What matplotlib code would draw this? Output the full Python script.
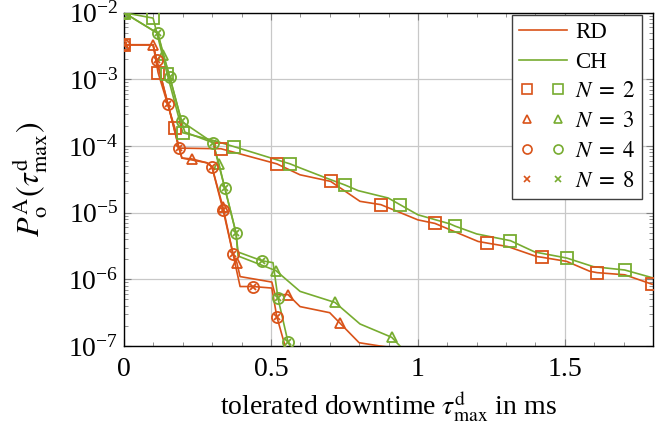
import numpy as np
import matplotlib
matplotlib.use("Agg")
import matplotlib.pyplot as plt
from matplotlib.legend_handler import HandlerTuple
from matplotlib.lines import Line2D
from matplotlib.ticker import MultipleLocator, LogLocator, NullFormatter

plt.rcParams['font.family'] = ['Liberation Serif', 'DejaVu Serif']
plt.rcParams['mathtext.fontset'] = 'stix'

red = '#D95319'
green = '#77AC30'

# RD, N=2
rd2_x = [0, 0.099, 0.116, 0.173, 0.187, 0.330, 0.520, 0.599, 0.703, 0.803, 0.874, 1.000,
         1.058, 1.205, 1.236, 1.306, 1.404, 1.423, 1.506, 1.585, 1.610, 1.704, 1.795, 1.85]
rd2_y = [3.3e-3, 3.3e-3, 1.26e-3, 1.86e-4, 9.3e-5, 9.1e-5, 5.4e-5, 3.7e-5, 2.95e-5, 1.48e-5,
         1.32e-5, 7.8e-6, 6.9e-6, 3.7e-6, 3.5e-6, 3.1e-6, 2.2e-6, 2.14e-6, 1.86e-6, 1.32e-6,
         1.26e-6, 1.17e-6, 8.5e-7, 7.8e-7]
rd2_mk = [0, 2, 3, 5, 6, 8, 10, 12, 14, 17, 20, 22]

# CH, N=2
ch2_x = [0, 0.099, 0.147, 0.200, 0.299, 0.374, 0.565, 0.599, 0.689, 0.752, 0.797, 0.899,
         0.939, 1.000, 1.109, 1.126, 1.200, 1.315, 1.398, 1.506, 1.597, 1.704, 1.80]
ch2_y = [1e-2, 8.3e-3, 1.2e-3, 1.58e-4, 1.23e-4, 9.8e-5, 5.4e-5, 4.7e-5, 3.3e-5, 2.6e-5,
         2.14e-5, 1.66e-5, 1.32e-5, 9.3e-6, 6.8e-6, 6.3e-6, 4.8e-6, 3.8e-6, 2.57e-6, 2.09e-6,
         1.55e-6, 1.38e-6, 1.05e-6]
ch2_mk = [0, 1, 2, 3, 5, 6, 9, 12, 15, 17, 19, 21]

# RD, N=3
rd3_x = [0, 0.099, 0.111, 0.150, 0.187, 0.197, 0.231, 0.282, 0.299, 0.337, 0.371, 0.384,
         0.395, 0.503, 0.514, 0.558, 0.599, 0.700, 0.735, 0.800, 0.871, 0.95]
rd3_y = [3.3e-3, 3.3e-3, 1.95e-3, 4.2e-4, 9.3e-5, 6.6e-5, 6.4e-5, 5.6e-5, 4.9e-5, 1.2e-5,
         2.4e-6, 1.78e-6, 1.1e-6, 9.1e-7, 5.9e-7, 5.9e-7, 3.9e-7, 3.16e-7, 2.2e-7, 1.12e-7,
         1.0e-7, 9.0e-8]
rd3_mk = [0, 1, 6, 9, 11, 15, 18]

# CH, N=3
ch3_x = [0, 0.115, 0.133, 0.156, 0.196, 0.303, 0.323, 0.343, 0.381, 0.388, 0.517, 0.599,
         0.718, 0.803, 0.911, 0.939, 0.96]
ch3_y = [1e-2, 4.9e-3, 2.34e-3, 1.07e-3, 2.34e-4, 1.12e-4, 5.4e-5, 2.34e-5, 5.0e-6, 2.24e-6,
         1.35e-6, 6.6e-7, 4.5e-7, 2.14e-7, 1.35e-7, 1.0e-7, 8.0e-8]
ch3_mk = [0, 2, 6, 10, 12, 14]

# RD, N=4 and N=8 (identical)
rd4_x = [0, 0.099, 0.111, 0.150, 0.187, 0.197, 0.282, 0.299, 0.337, 0.371, 0.395, 0.439,
         0.503, 0.520, 0.548, 0.56]
rd4_y = [3.3e-3, 3.3e-3, 1.95e-3, 4.2e-4, 9.3e-5, 6.6e-5, 5.6e-5, 4.9e-5, 1.1e-5, 2.4e-6,
         7.8e-7, 7.8e-7, 7.4e-7, 2.75e-7, 1.0e-7, 8.0e-8]
rd4_mk = [0, 2, 3, 4, 7, 8, 9, 11, 13]

# CH, N=4 and N=8 (identical)
ch4_x = [0, 0.115, 0.156, 0.196, 0.207, 0.303, 0.343, 0.381, 0.388, 0.469, 0.507, 0.524,
         0.558, 0.565, 0.57]
ch4_y = [1e-2, 4.9e-3, 1.07e-3, 2.34e-4, 1.62e-4, 1.12e-4, 2.34e-5, 5.0e-6, 2.57e-6, 1.9e-6,
         1.78e-6, 5.2e-7, 1.15e-7, 1.0e-7, 8.0e-8]
ch4_mk = [0, 1, 2, 3, 5, 6, 7, 9, 11, 12]

fig = plt.figure(figsize=(6.67, 4.25), dpi=100)
ax = fig.add_axes([124 / 667, 1 - 346 / 425, 529 / 667, 333.3 / 425])

lw = 1.2
mew = 1.3
curves = [
    (rd2_x, rd2_y, rd2_mk, red, [('s', 8)]),
    (ch2_x, ch2_y, ch2_mk, green, [('s', 8)]),
    (rd3_x, rd3_y, rd3_mk, red, [('^', 7)]),
    (ch3_x, ch3_y, ch3_mk, green, [('^', 7)]),
    (rd4_x, rd4_y, rd4_mk, red, [('o', 8), ('x', 5)]),
    (ch4_x, ch4_y, ch4_mk, green, [('o', 8), ('x', 5)]),
]
for x, y, mk, col, markers in curves:
    ax.plot(x, y, color=col, lw=lw, zorder=3)
    for m, ms in markers:
        ax.plot(np.array(x)[mk], np.array(y)[mk], ls='none', marker=m, ms=ms,
                mfc='none', mec=col, mew=mew, zorder=4)

ax.set_yscale('log')
ax.set_xlim(0, 1.8)
ax.set_ylim(1e-7, 1e-2)
ax.xaxis.set_major_locator(MultipleLocator(0.5))
ax.xaxis.set_minor_locator(MultipleLocator(0.1))
ax.xaxis.set_major_formatter(matplotlib.ticker.FuncFormatter(lambda v, p: '%g' % v))
ax.yaxis.set_major_locator(LogLocator(base=10, numticks=10))
ax.yaxis.set_minor_locator(LogLocator(base=10, subs=np.arange(2, 10), numticks=20))
ax.yaxis.set_minor_formatter(NullFormatter())
ax.grid(True, which='major', color='#c8c8c8', lw=0.9, zorder=0)
ax.tick_params(which='both', direction='in', top=True, right=True, color='#808080',
               labelsize=20)
ax.tick_params(axis='x', pad=8)
ax.tick_params(axis='y', pad=4)
ax.tick_params(which='major', length=5)
ax.tick_params(which='minor', length=3)
for s in ax.spines.values():
    s.set_linewidth(1.0)
ax.set_axisbelow(True)

ax.set_xlabel(r'tolerated downtime $\tau_{\mathrm{max}}^{\mathrm{d}}$ in ms', fontsize=20,
              labelpad=5)
ax.set_ylabel(r'$P_{\mathrm{o}}^{\mathrm{A}}(\tau_{\mathrm{max}}^{\mathrm{d}})$', fontsize=23,
              labelpad=13)

def mk(m, col, ms):
    return Line2D([], [], ls='none', marker=m, ms=ms, mfc='none', mec=col, mew=1.2)

handles = [
    Line2D([], [], color=red, lw=lw),
    Line2D([], [], color=green, lw=lw),
    (mk('s', red, 6.5), mk('s', green, 6.5)),
    (mk('^', red, 5.5), mk('^', green, 5.5)),
    (mk('o', red, 6.5), mk('o', green, 6.5)),
    (mk('x', red, 4.5), mk('x', green, 4.5)),
]
labels = ['RD', 'CH', r'$N\;=\;2$', r'$N\;=\;3$', r'$N\;=\;4$', r'$N\;=\;8$']
leg = ax.legend(handles, labels, loc='upper right', fontsize=16.5, fancybox=False,
                framealpha=1, edgecolor='#404040', handlelength=2.1, handletextpad=0.35,
                borderpad=0.3, labelspacing=0.38, borderaxespad=0,
                bbox_to_anchor=(642 / 667, 1 - 15 / 425), bbox_transform=fig.transFigure,
                handler_map={tuple: HandlerTuple(ndivide=None, pad=0.6)})
leg.get_frame().set_linewidth(1.0)

fig.savefig('out.png', dpi=100)
